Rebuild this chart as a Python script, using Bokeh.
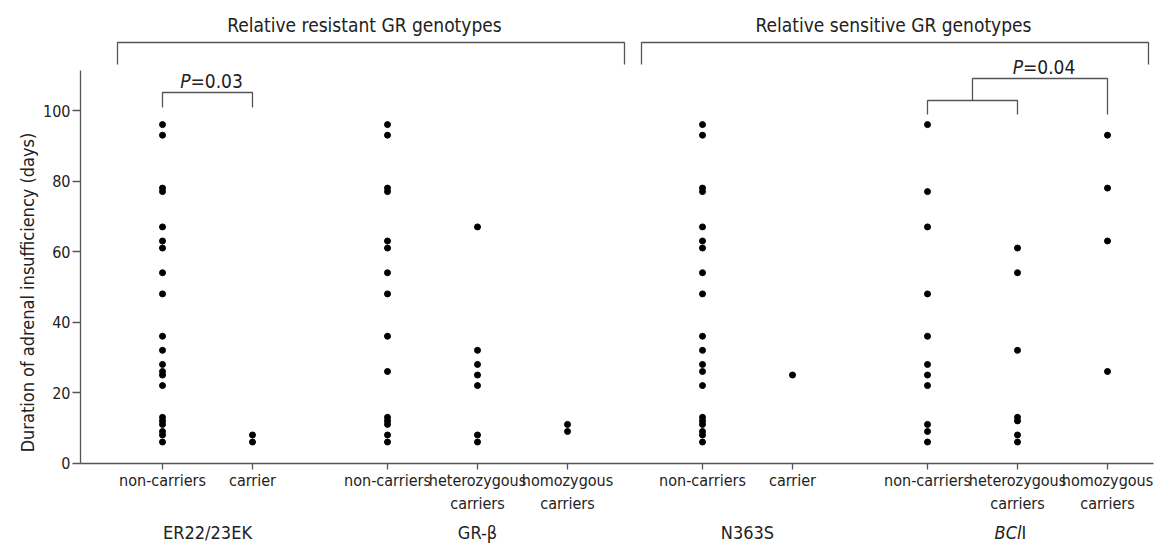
import math
from bokeh.plotting import figure
from bokeh.models import Range1d, FixedTicker
from bokeh.core.properties import value
from bokeh.embed import file_html
from bokeh.resources import INLINE

# ---------------- data (days) ----------------
er_non = [96, 93, 78, 77, 67, 63, 61, 54, 48, 36, 32, 28, 26, 25, 22, 13, 12, 11, 9, 8, 6]
er_car = [8, 6]
grb_non = [96, 93, 78, 77, 63, 61, 54, 48, 36, 26, 13, 12, 11, 8, 6]
grb_het = [67, 32, 28, 25, 22, 8, 6]
grb_hom = [11, 9]
n363_non = [96, 93, 78, 77, 67, 63, 61, 54, 48, 36, 32, 28, 26, 22, 13, 12, 11, 9, 8, 6]
n363_car = [25]
bcl_non = [96, 77, 67, 48, 36, 28, 25, 22, 11, 9, 6]
bcl_het = [61, 54, 32, 13, 12, 8, 6]
bcl_hom = [93, 78, 63, 26]

groups = [[er_non, er_car], [grb_non, grb_het, grb_hom], [n363_non, n363_car], [bcl_non, bcl_het, bcl_hom]]
tick_labels = ["non-carriers", "carrier",
               "non-carriers", "heterozygous\ncarriers", "homozygous\ncarriers",
               "non-carriers", "carrier",
               "non-carriers", "heterozygous\ncarriers", "homozygous\ncarriers"]
gene_labels = ["ER22/23EK", "GR-\u03b2", "N363S", None]
header_labels = ["Relative resistant GR genotypes", "Relative sensitive GR genotypes"]
p_labels = ["=0.03", "=0.04"]
y_ticks = [0, 20, 40, 60, 80, 100]

FONT = "DejaVu Sans Condensed, Liberation Sans Narrow, Roboto Condensed, Liberation Sans, sans-serif"
TXT = "#222222"
LN = "#555555"

# ---------- layout: category positions ----------
positions = []
group_centers = []
cur = 0.0
for g in groups:
    start = cur
    for _ in g:
        positions.append(cur)
        cur += 1.0
    group_centers.append((start + cur - 1.0) / 2)
    cur += 0.5

# pixel-to-data helpers (frame spans the whole canvas)
PX_X = 90.0        # px per category step
PX_Y = 3.527       # px per day
X0_PAGE = 162.0    # x of first category
Y0_PAGE = 462.7    # y of 0 days
W, H = 1162, 544

def dx(px):
    return (px - X0_PAGE) / PX_X

def dy(py):
    return (Y0_PAGE - py) / PX_Y

x_left, x_right = dx(0), dx(W)
y_top, y_bot = dy(0), dy(H)
axis_x = dx(80)
axis_x_end = dx(1153)
y_axis_top = dy(70)

p = figure(width=W, height=H, output_backend="svg", toolbar_location=None,
           x_range=Range1d(x_left, x_right), y_range=Range1d(y_bot, y_top),
           min_border=0, min_border_left=0, min_border_right=0,
           min_border_top=0, min_border_bottom=0)
p.outline_line_color = None
p.xgrid.visible = False
p.ygrid.visible = False
p.background_fill_color = "white"
p.border_fill_color = "white"

# ---------- points ----------
xs, ys = [], []
i = 0
for g in groups:
    for series in g:
        for v in series:
            xs.append(positions[i])
            ys.append(v)
        i += 1
p.scatter(xs, ys, size=6, color="black", line_color="black")

# ---------- axes ----------
ya = p.yaxis[0]
ya.fixed_location = axis_x
ya.ticker = FixedTicker(ticks=y_ticks)
ya.bounds = (0, y_axis_top)
ya.axis_line_color = LN
ya.axis_line_width = 1.3
ya.major_tick_line_color = LN
ya.major_tick_line_width = 1.3
ya.major_tick_out = 8
ya.major_tick_in = 0
ya.minor_tick_out = 0
ya.minor_tick_in = 0
ya.major_label_text_font = FONT
ya.major_label_text_font_size = "16px"
ya.major_label_text_color = TXT
ya.major_label_standoff = 2

xa = p.xaxis[0]
xa.fixed_location = 0
xa.ticker = FixedTicker(ticks=positions)
xa.bounds = (axis_x, axis_x_end)
xa.major_label_overrides = {float(pos): lab for pos, lab in zip(positions, tick_labels)}
xa.axis_line_color = LN
xa.axis_line_width = 1.3
xa.major_tick_line_color = LN
xa.major_tick_line_width = 1.3
xa.major_tick_out = 6
xa.major_tick_in = 0
xa.minor_tick_out = 0
xa.minor_tick_in = 0
xa.major_label_text_font = FONT
xa.major_label_text_font_size = "16px"
xa.major_label_text_color = TXT
xa.major_label_standoff = 2

# y-axis title
p.text(x=[dx(27)], y=[dy(292)], text=["Duration of adrenal insufficiency (days)"],
       angle=math.pi / 2, text_align="center", text_baseline="middle",
       text_font=value(FONT), text_font_size="18px", text_color=TXT)

# gene labels under groups
gl_y = dy(532)
gx = [c for c, l in zip(group_centers, gene_labels) if l]
gt = [l for l in gene_labels if l]
p.text(x=gx, y=[gl_y] * len(gx), text=gt, text_align="center", text_baseline="middle",
       text_font=value(FONT), text_font_size="18px", text_color=TXT)
# BclI with italic part
bc = group_centers[3]
p.text(x=[bc], y=[gl_y], text=["BCl"], text_align="right", text_baseline="middle",
       x_offset=4, text_font=value(FONT), text_font_size="18px", text_font_style="italic",
       text_color=TXT)
p.text(x=[bc], y=[gl_y], text=["I"], text_align="left", text_baseline="middle",
       x_offset=4, text_font=value(FONT), text_font_size="18px", text_color=TXT)

# ---------- header brackets ----------
hb_y = dy(42)
hb_leg = dy(64)
hdr = [(dx(117), dx(624)), (dx(641), dx(1148))]
for (a, b), lab in zip(hdr, header_labels):
    p.line([a, a, b, b], [hb_leg, hb_y, hb_y, hb_leg], line_color=LN, line_width=1.3)
p.text(x=[dx(364), dx(893)], y=[dy(24)] * 2, text=header_labels, text_align="center",
       text_baseline="middle", text_font=value(FONT), text_font_size="19px", text_color=TXT)

# ---------- P = 0.03 bracket ----------
a, b = positions[0], positions[1]
p.line([a, a, b, b], [dy(107), dy(92), dy(92), dy(107)], line_color=LN, line_width=1.3)
mid = (a + b) / 2
p.text(x=[mid], y=[dy(80)], text=["P"], text_align="right", text_baseline="middle",
       x_offset=-17, text_font=value(FONT), text_font_size="19px", text_font_style="italic",
       text_color=TXT)
p.text(x=[mid], y=[dy(80)], text=[p_labels[0]], text_align="left", text_baseline="middle",
       x_offset=-17, text_font=value(FONT), text_font_size="19px", text_color=TXT)

# ---------- P = 0.04 nested bracket ----------
a, b, c = positions[7], positions[8], positions[9]
m = (a + b) / 2
p.line([a, a, b, b], [dy(114), dy(100), dy(100), dy(114)], line_color=LN, line_width=1.3)
p.line([m, m, c, c], [dy(100), dy(78), dy(78), dy(114)], line_color=LN, line_width=1.3)
mid2 = (m + c) / 2
p.text(x=[mid2], y=[dy(66)], text=["P"], text_align="right", text_baseline="middle",
       x_offset=-17, text_font=value(FONT), text_font_size="19px", text_font_style="italic",
       text_color=TXT)
p.text(x=[mid2], y=[dy(66)], text=[p_labels[1]], text_align="left", text_baseline="middle",
       x_offset=-17, text_font=value(FONT), text_font_size="19px", text_color=TXT)

open("out.html", "w").write(file_html(p, INLINE))
